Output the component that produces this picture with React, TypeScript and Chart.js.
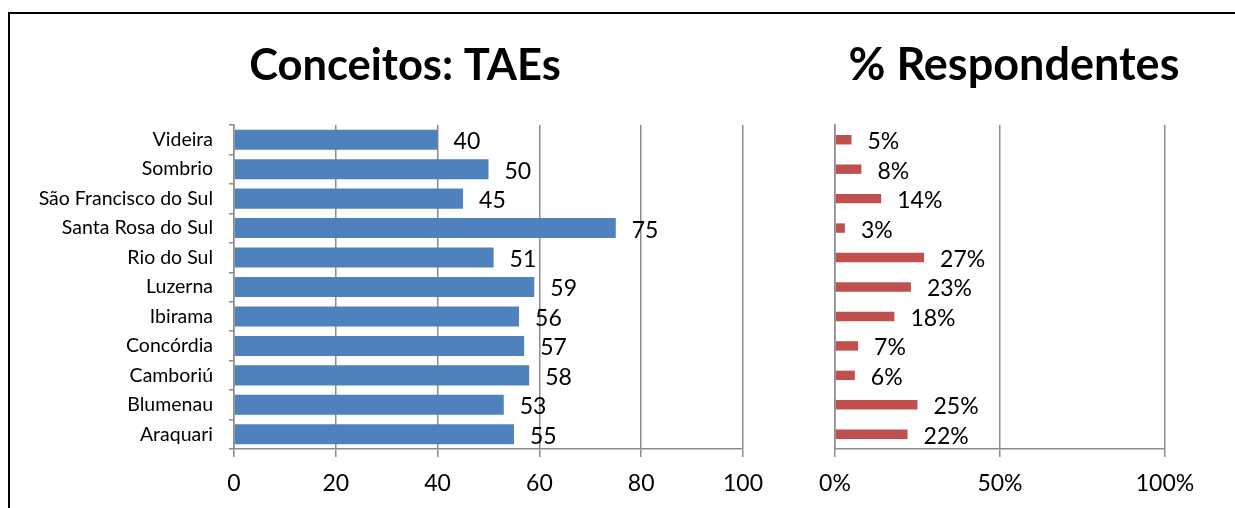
import React, { useEffect, useRef } from "react";
import { Chart, registerables } from "chart.js";

Chart.register(...registerables);

const campuses = [
  "Videira",
  "Sombrio",
  "São Francisco do Sul",
  "Santa Rosa do Sul",
  "Rio do Sul",
  "Luzerna",
  "Ibirama",
  "Concórdia",
  "Camboriú",
  "Blumenau",
  "Araquari",
];
const taeConcepts = [40, 50, 45, 75, 51, 59, 56, 57, 58, 53, 55];
const respondentPct = [5, 8, 14, 3, 27, 23, 18, 7, 6, 25, 22];

const leftTitle = "Conceitos: TAEs";
const rightTitle = "% Respondentes";

const FONT = "Lato, 'Open Sans', sans-serif";
const GRID = "#8c8c8c";

const valueLabels = {
  id: "valueLabels",
  afterDatasetsDraw(chart: any, _args: any, opts: any) {
    const ctx = chart.ctx;
    const meta = chart.getDatasetMeta(0);
    const data = chart.data.datasets[0].data as number[];
    ctx.save();
    ctx.font = `${opts.size}px ${FONT}`;
    ctx.fillStyle = "#000";
    ctx.textAlign = "left";
    ctx.textBaseline = "middle";
    meta.data.forEach((bar: any, i: number) => {
      const txt = String(Math.round(data[i])) + (opts.suffix || "");
      ctx.fillText(txt, bar.x + opts.offset, bar.y + 2);
    });
    ctx.restore();
  },
};

const centeredTitle = {
  id: "centeredTitle",
  afterDraw(chart: any, _args: any, opts: any) {
    const ctx = chart.ctx;
    ctx.save();
    ctx.font = `bold ${opts.size}px ${FONT}`;
    ctx.fillStyle = "#000";
    ctx.textAlign = "center";
    ctx.textBaseline = "alphabetic";
    ctx.fillText(opts.text, chart.width / 2, opts.baseline);
    ctx.restore();
  },
};

function makeConfig(
  labels: string[],
  values: number[],
  color: string,
  title: string,
  titleSize: number,
  thickness: number,
  pct: boolean,
  yWidth: number,
  rightPad: number
): any {
  return {
    type: "bar",
    data: {
      labels,
      datasets: [
        {
          data: values,
          backgroundColor: color,
          borderWidth: 0,
          barPercentage: thickness,
          categoryPercentage: 1,
        },
      ],
    },
    options: {
      indexAxis: "y",
      animation: false,
      responsive: false,
      maintainAspectRatio: false,
      layout: { padding: { left: 0, right: rightPad, top: 111, bottom: 0 } },
      plugins: {
        legend: { display: false },
        tooltip: { enabled: false },
        title: { display: false },
        centeredTitle: { text: title, size: titleSize, baseline: 66 },
        valueLabels: { size: 23, offset: 16, suffix: pct ? "%" : "" },
      },
      scales: {
        x: {
          min: 0,
          max: 100,
          ticks: {
            stepSize: pct ? 50 : 20,
            color: "#000",
            font: { family: FONT, size: 23 },
            padding: 13,
            maxRotation: 0,
            callback: (v: any) => (pct ? v + "%" : String(v)),
          },
          grid: {
            color: GRID,
            lineWidth: 1.5,
            tickLength: 8,
            drawOnChartArea: true,
          },
          border: { display: true, color: GRID, width: 1.5 },
          afterFit: (s: any) => {
            s.height = 59;
          },
        },
        y: {
          offset: true,
          ticks: {
            display: !pct,
            color: "#000",
            font: { family: FONT, size: 19.5 },
            padding: 16,
            autoSkip: false,
          },
          grid: {
            offset: true,
            drawOnChartArea: false,
            drawTicks: !pct,
            tickLength: 5,
            color: GRID,
            lineWidth: 1.5,
          },
          border: { display: true, color: GRID, width: 1.5 },
          afterFit: (s: any) => {
            s.width = yWidth;
          },
        },
      },
    },
    plugins: [valueLabels, centeredTitle],
  };
}

function BarChart(props: { cfg: any; left: number; width: number }) {
  const ref = useRef<HTMLCanvasElement | null>(null);
  useEffect(() => {
    if (!ref.current) return;
    const chart = new Chart(ref.current, props.cfg);
    return () => chart.destroy();
  }, []);
  return (
    <canvas
      ref={ref}
      width={props.width}
      height={494}
      style={{
        position: "absolute",
        left: props.left,
        top: 14,
        width: props.width,
        height: 494,
      }}
    />
  );
}

export default function App() {
  const leftCfg = makeConfig(
    campuses,
    taeConcepts,
    "#4F81BD",
    leftTitle,
    43.5,
    0.68,
    false,
    224,
    57
  );
  const rightCfg = makeConfig(
    campuses,
    respondentPct,
    "#C0504D",
    rightTitle,
    45,
    0.32,
    true,
    35,
    63
  );
  return (
    <div
      style={{
        position: "absolute",
        left: 0,
        top: 0,
        width: 1235,
        height: 508,
        background: "#fff",
        overflow: "hidden",
      }}
    >
      <div
        style={{
          position: "absolute",
          left: 8,
          top: 12,
          width: 1227,
          height: 2,
          background: "#000",
        }}
      />
      <div
        style={{
          position: "absolute",
          left: 8,
          top: 12,
          width: 2,
          height: 496,
          background: "#000",
        }}
      />
      <BarChart cfg={leftCfg} left={10} width={790} />
      <BarChart cfg={rightCfg} left={800} width={428} />
    </div>
  );
}
